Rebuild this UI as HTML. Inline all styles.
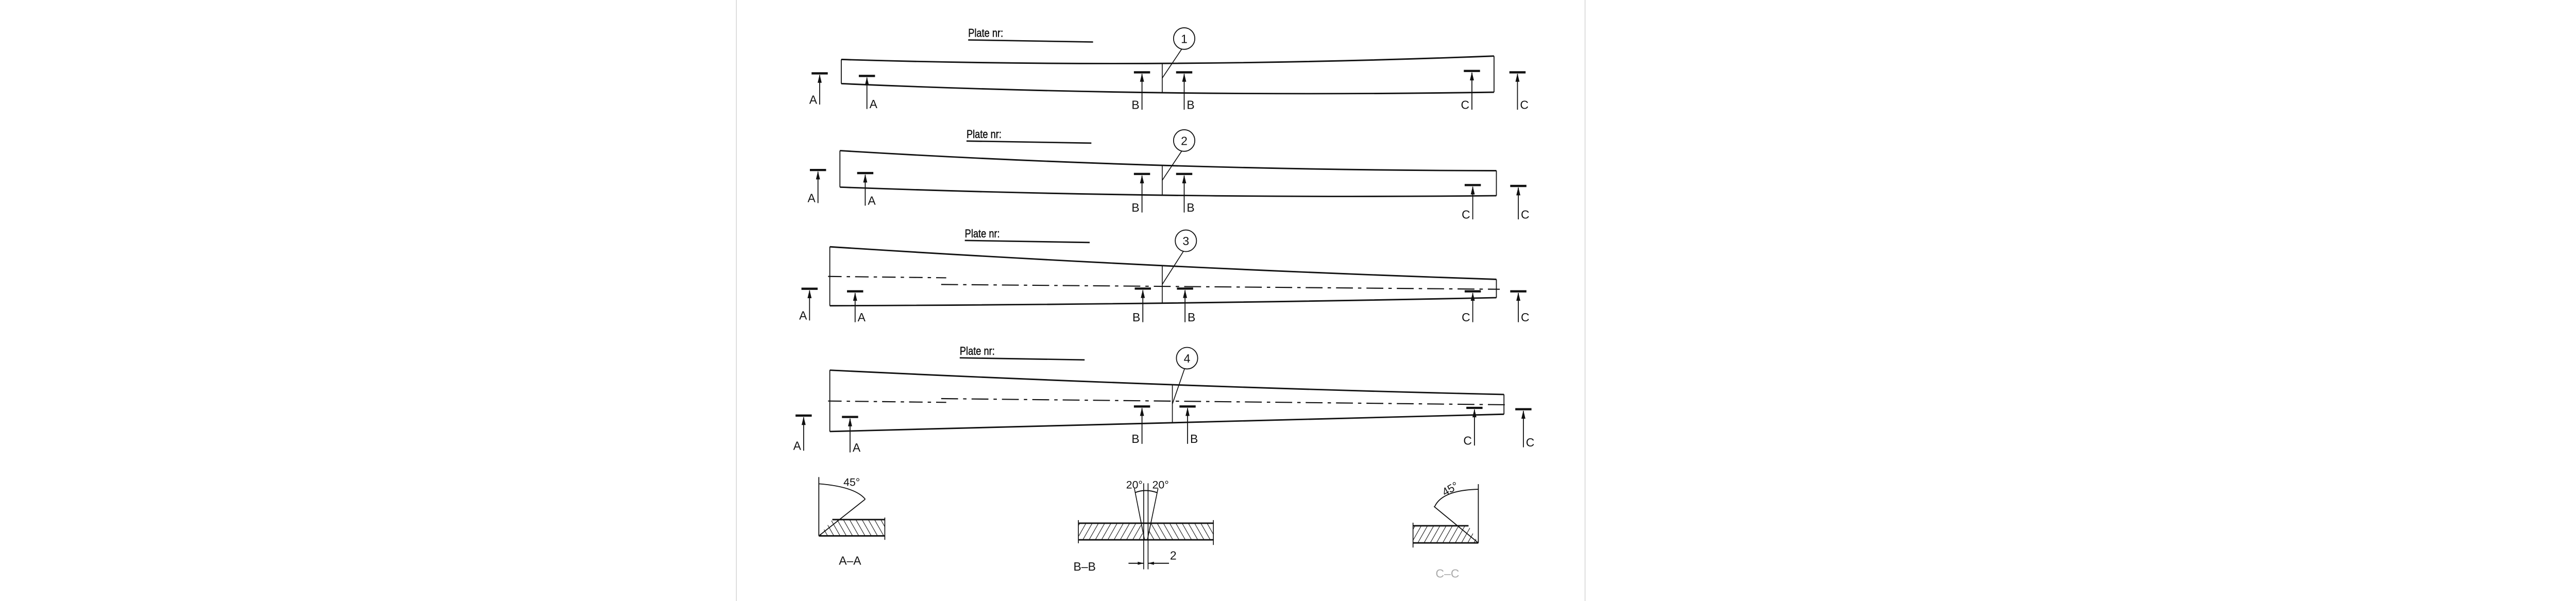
<!DOCTYPE html>
<html><head><meta charset="utf-8"><style>
html,body{margin:0;padding:0;background:#fff;width:5218px;height:1167px;overflow:hidden}
svg{display:block}
text{font-family:"Liberation Sans",sans-serif;fill:#111}
</style></head><body>
<svg id="drw" width="5218" height="1167" viewBox="0 0 1568 350.7" preserveAspectRatio="none" xmlns="http://www.w3.org/2000/svg">
<defs>
<pattern id="hatchR" patternUnits="userSpaceOnUse" width="3.2" height="3.2" patternTransform="rotate(-30)"><line x1="0" y1="0" x2="0" y2="3.2" stroke="#111" stroke-width="0.65"/></pattern>
<pattern id="hatchL" patternUnits="userSpaceOnUse" width="3.2" height="3.2" patternTransform="rotate(30)"><line x1="0" y1="0" x2="0" y2="3.2" stroke="#111" stroke-width="0.65"/></pattern>
</defs>
<line x1="429.5" y1="0" x2="429.5" y2="351" stroke="#d0d0d0" stroke-width="0.4"/>
<line x1="924.5" y1="0" x2="924.5" y2="351" stroke="#d0d0d0" stroke-width="0.4"/>
<g transform="translate(420.7,0) scale(0.9843,1) translate(-420.7,0)">
<g id="beams"></g>

<g stroke="#111" fill="none">
<polygon points="478.5,312.7 517.6,312.7 517.6,303.2 486.5,303.2" fill="url(#hatchR)" stroke="none"/>
<line x1="478.5" y1="278.4" x2="478.5" y2="312.7" stroke-width="0.55"/>
<line x1="486.5" y1="303.2" x2="517.6" y2="303.2" stroke-width="0.85"/>
<line x1="478.5" y1="312.7" x2="517.6" y2="312.7" stroke-width="0.85"/>
<line x1="517.6" y1="302" x2="517.6" y2="315" stroke-width="0.5"/>
<line x1="478.5" y1="312.7" x2="506" y2="291.3" stroke-width="0.55"/>
<path d="M478.5,282.3 Q500,284 506,291.3" stroke-width="0.55"/>
<text x="498" y="283.5" font-size="6.5" stroke="none" text-anchor="middle">45°</text>
<text x="497" y="329.5" font-size="7" stroke="none" text-anchor="middle">A–A</text>
</g>

<g stroke="#111" fill="none">
<polygon points="632.3,305.3 669.2,305.3 671,315 632.3,315" fill="url(#hatchL)" stroke="none"/>
<polygon points="675,305.3 712.3,305.3 712.3,315 673.6,315" fill="url(#hatchR)" stroke="none"/>
<line x1="632.3" y1="305.3" x2="712.3" y2="305.3" stroke-width="0.85"/>
<line x1="632.3" y1="315" x2="712.3" y2="315" stroke-width="0.85"/>
<line x1="632.3" y1="303.5" x2="632.3" y2="317" stroke-width="0.5"/>
<line x1="712.3" y1="303.5" x2="712.3" y2="318" stroke-width="0.5"/>
<line x1="671" y1="282" x2="671" y2="332.2" stroke-width="0.5"/>
<line x1="673.6" y1="282" x2="673.6" y2="332.2" stroke-width="0.5"/>
<line x1="665.5" y1="285" x2="671.5" y2="315" stroke-width="0.5"/>
<line x1="679.5" y1="285" x2="673.2" y2="315" stroke-width="0.5"/>
<path d="M665.8,287.5 Q672,285 679,287.5" stroke-width="0.6"/>
<text x="665.5" y="285" font-size="6.5" stroke="none" text-anchor="middle">20°</text>
<text x="681" y="285" font-size="6.5" stroke="none" text-anchor="middle">20°</text>
<line x1="662" y1="328.7" x2="671" y2="328.7" stroke-width="0.6"/>
<polygon points="671,328.7 667.5,327.8 667.5,329.6" fill="#111" stroke="none"/>
<line x1="673.6" y1="328.7" x2="686" y2="328.7" stroke-width="0.6"/>
<polygon points="673.6,328.7 677.1,327.8 677.1,329.6" fill="#111" stroke="none"/>
<text x="688.5" y="326.5" font-size="7" stroke="none" text-anchor="middle">2</text>
<text x="636" y="333" font-size="7" stroke="none" text-anchor="middle">B–B</text>
</g>

<g stroke="#111" fill="none">
<polygon points="830.6,306.8 863.5,306.8 869.3,316.8 830.6,316.8" fill="url(#hatchL)" stroke="none"/>
<line x1="869.3" y1="282.5" x2="869.3" y2="316.8" stroke-width="0.55"/>
<line x1="830.6" y1="306.8" x2="863.5" y2="306.8" stroke-width="0.85"/>
<line x1="830.6" y1="316.8" x2="869.3" y2="316.8" stroke-width="0.85"/>
<line x1="830.6" y1="305" x2="830.6" y2="319.5" stroke-width="0.5"/>
<line x1="869.3" y1="316.8" x2="843" y2="295.5" stroke-width="0.55"/>
<path d="M843.5,295.5 Q848,286 869.3,285.5" stroke-width="0.55"/>
<text x="852.5" y="287.5" font-size="6.5" stroke="none" text-anchor="middle" transform="rotate(-30 852.5 285)">45°</text>
<text x="851" y="337" font-size="7" stroke="none" text-anchor="middle" style="fill:#aaa">C–C</text>
</g>
</g>
</svg>
<script>
// beam outline geometry (drawing coordinates), one entry per plate
const beamLeft = [491.8, 491.0, 485.0, 485.0];
const beamRight = [878.6, 880.0, 880.0, 884.5];
const beamMid = [682, 682, 682, 688];
const topY = [[34.7, 37.0, 32.7], [87.9, 96.5, 99.6], [144.0, 155.0, 163.0], [216.0, 224.5, 230.2]];
const botY = [[48.8, 54.1, 53.8], [109.2, 113.9, 114.2], [178.4, 176.9, 173.7], [251.8, 247.0, 241.7]];
const circleXY = [[695, 22.5], [695, 82], [696, 140.5], [696.7, 209]];
const plateLabelXY = [[567, 21.5], [566, 80.5], [565, 138.5], [562, 207]];
const labels = ["1", "2", "3", "4"];
const centerLine = [null, null, [161.3, 166.0, 168.8], [234.0, 232.6, 236.2]];
const markerX = [[479, 507, 670, 695, 865.5, 892.5], [478, 506, 670, 695, 866, 893], [473, 500, 670.5, 695.5, 866, 893], [469.5, 497, 670, 697, 867, 896]];
const markerTop = [[42.8, 44.3, 42.2, 42.2, 41.4, 42.2], [99.2, 101, 101.5, 101.5, 108, 108.5], [168.5, 170, 168.4, 168.4, 170, 170], [242.5, 243.3, 237.2, 237.2, 238, 238.8]];
const markerBot = [[61, 63.6, 64, 64, 64, 64], [118.5, 120, 124, 124, 128, 128], [187, 188, 188, 188, 188, 188], [263, 264, 259, 259, 260, 261]];
const markerLbl = ["A", "A", "B", "B", "C", "C"];

const NS = "http://www.w3.org/2000/svg";
const root = document.getElementById("beams");
function mk(tag, attrs, parent) {
  const e = document.createElementNS(NS, tag);
  for (const k in attrs) e.setAttribute(k, attrs[k]);
  (parent || root).appendChild(e);
  return e;
}
function curve(x0, xm, x1, ys) {
  const cx = 2 * xm - (x0 + x1) / 2, cy = 2 * ys[1] - (ys[0] + ys[2]) / 2;
  return `M${x0},${ys[0]} Q${cx},${cy} ${x1},${ys[2]}`;
}
function yAt(x0, xm, x1, ys, x) {
  const cx = 2 * xm - (x0 + x1) / 2, cy = 2 * ys[1] - (ys[0] + ys[2]) / 2;
  let lo = 0, hi = 1;
  for (let i = 0; i < 30; i++) { const t = (lo + hi) / 2; const xx = (1-t)*(1-t)*x0 + 2*(1-t)*t*cx + t*t*x1; if (xx < x) lo = t; else hi = t; }
  const t = lo; return (1-t)*(1-t)*ys[0] + 2*(1-t)*t*cy + t*t*ys[2];
}
for (let i = 0; i < beamLeft.length; i++) {
  const g = mk("g", { stroke: "#111", fill: "none" });
  
  
  const x0 = beamLeft[i], x1 = beamRight[i], xm = beamMid[i];
  const t = mk("path", { d: curve(x0, xm, x1, topY[i]), "stroke-width": 0.85 }, g);
  
  
  const b = mk("path", { d: curve(x0, xm, x1, botY[i]), "stroke-width": 0.85 }, g);
  
  
  const e1 = mk("line", { x1: x0, y1: topY[i][0], x2: x0, y2: botY[i][0], "stroke-width": 0.55 }, g);
  
  
  const e2 = mk("line", { x1: x1, y1: topY[i][2], x2: x1, y2: botY[i][2], "stroke-width": 0.55 }, g);
  
  
  const dv = mk("line", { x1: xm, y1: yAt(x0, xm, x1, topY[i], xm), x2: xm, y2: yAt(x0, xm, x1, botY[i], xm), "stroke-width": 0.5 }, g);
  
  
  if (centerLine[i]) {
    const cl = centerLine[i];
    const c1 = mk("line", { x1: x0 - 1, y1: cl[0], x2: 554, y2: cl[0] + 0.8, "stroke-width": 0.65, "stroke-dasharray": "8 3 2 3" }, g);
    
    
    const c2 = mk("line", { x1: 551, y1: cl[1], x2: x1 + 2, y2: cl[2], "stroke-width": 0.65, "stroke-dasharray": "10 3 2 3" }, g);
    
    
  }
  const [cx, cy] = circleXY[i];
  const c = mk("circle", { cx: cx, cy: cy, r: 6.3, "stroke-width": 0.55 }, g);
  
  
  const tx = mk("text", { x: cx, y: cy + 2.6, "font-size": 7, "text-anchor": "middle", stroke: "none" }, g);
  tx.textContent = labels[i];
  
  
  const ld = mk("line", { x1: cx - 1.5, y1: cy + 6.2, x2: xm, y2: (yAt(x0, xm, x1, topY[i], xm) + yAt(x0, xm, x1, botY[i], xm)) / 2, "stroke-width": 0.5 }, g);
  
  
  const [px, py] = plateLabelXY[i];
  const pl = mk("text", { x: px, y: py, "font-size": 6.8, stroke: "#111", "stroke-width": 0.15, transform: `translate(${px},0) scale(0.82,1) translate(${-px},0)` }, g);
  pl.textContent = "Plate nr:";
  
  
  const ul = mk("line", { x1: px, y1: py + 1.8, x2: px + 74, y2: py + 3, "stroke-width": 0.8 }, g);
  
  
  for (let m = 0; m < markerX[i].length; m++) {
    const mx = markerX[i][m], my = markerTop[i][m], mb = markerBot[i][m];
    const mg = mk("g", {}, g);
    
    
    mk("line", { x1: mx - 4.8, y1: my, x2: mx + 4.8, y2: my, "stroke-width": 1.3 }, mg);
    mk("line", { x1: mx, y1: my + 1, x2: mx, y2: mb, "stroke-width": 0.55 }, mg);
    mk("polygon", { points: `${mx},${my + 0.6} ${mx - 1.2},${my + 5.5} ${mx + 1.2},${my + 5.5}`, fill: "#111", stroke: "none" }, mg);
    const left = m % 2 === 0;
    const lt = mk("text", { x: left ? mx - 1.5 : mx + 1.5, y: mb - 0.5, "font-size": 7, "text-anchor": left ? "end" : "start", stroke: "none" }, mg);
    lt.textContent = markerLbl[m];
    
    
  }
}
</script>
</body></html>
